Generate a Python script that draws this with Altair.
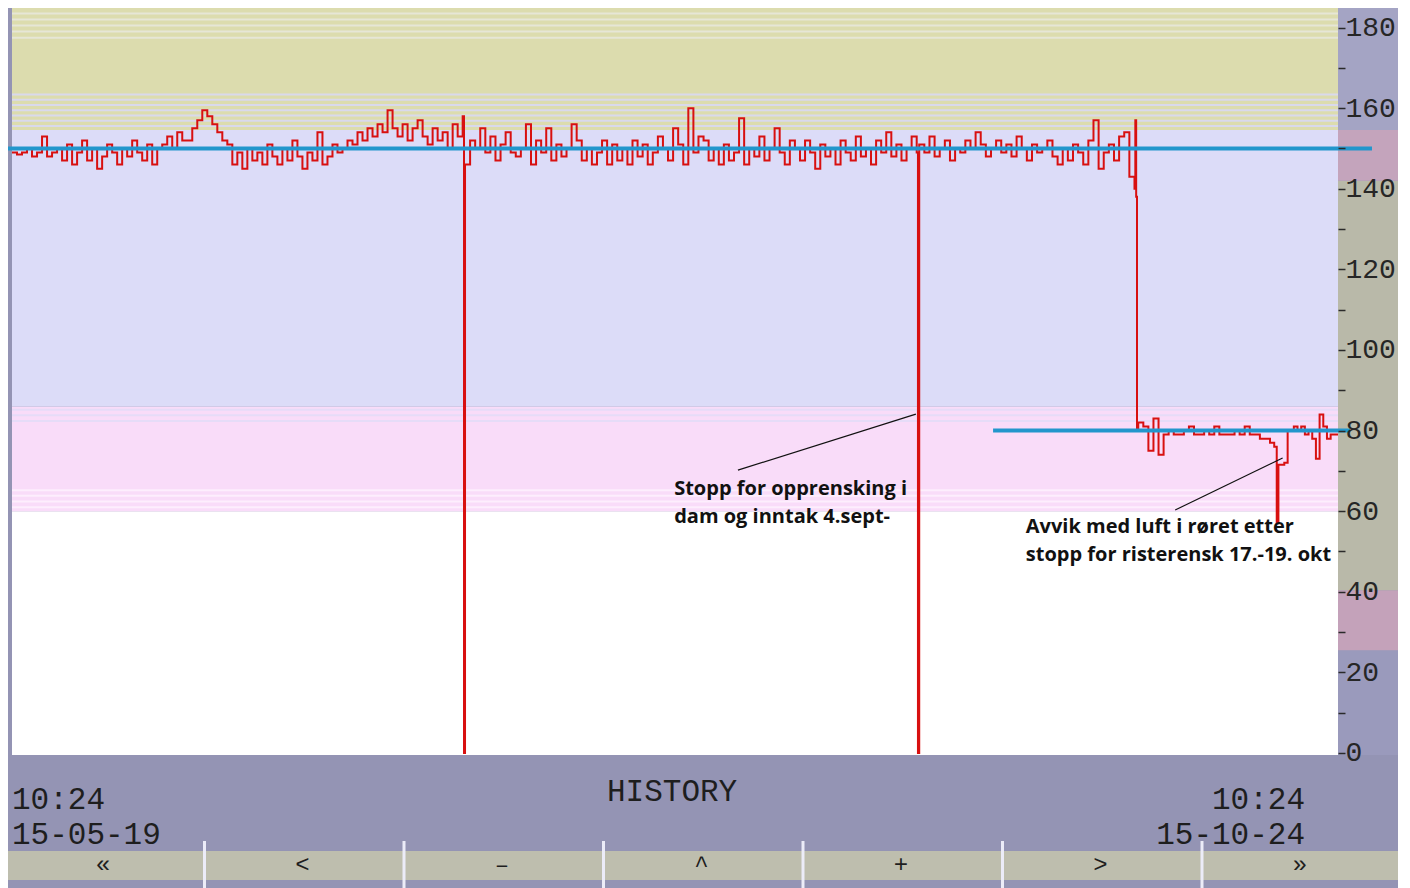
import altair as alt
import numpy as np
import pandas as pd

# ---------------- data ----------------
# time axis: days after 15-05-19 10:24 (window ends 15-10-24 10:24)
DAYS = 158.0

seg_a_vals = [149, 148.5, 149, 150, 148, 149, 153, 148, 149, 150,
              147, 151, 146, 149, 152, 147, 150, 145, 148, 151,
              149, 146, 150, 148, 152, 149, 147, 151, 146, 150,
              151, 153, 150, 154, 152,
              152, 155, 157, 159.5, 158, 156, 154, 152, 151,
              146, 149, 145, 150, 147, 149, 146, 151, 148, 146, 150, 147, 152, 148, 145, 149, 147, 154, 146, 148, 151, 149,
              150, 152, 151, 154, 152, 155, 153, 156, 154, 159.5, 155, 153, 156, 152, 155, 157, 153, 151, 155, 152, 154, 150, 156, 153, 158]
seg_b_vals = [146, 152, 150, 155, 149, 153, 147, 151, 154, 149,
              148, 150, 156, 146, 152, 149, 155, 147, 151, 148,
              150, 156, 152, 147, 150, 146, 149, 152, 146, 151,
              147, 150, 146, 152, 148, 151, 146, 149, 153, 150,
              147, 155, 151, 146, 160, 149, 153, 152, 147, 150,
              146, 151, 147, 149, 157.5, 146, 150, 148, 153, 147,
              150, 155, 149, 146, 152, 150, 147, 152, 149, 145,
              151, 148, 150, 146, 152, 149, 147, 153, 148, 150,
              146, 152, 149, 154, 148, 151, 147, 150, 153, 149]
seg_c_vals = [151, 149, 153, 148, 150, 152, 147, 150, 149, 152,
              150, 154, 151, 148, 150, 152, 149, 151, 148, 153,
              150, 147, 151, 149, 150, 152, 148, 146, 150, 147,
              151, 149, 146, 152, 157, 145, 149, 151, 147, 153, 154, 143, 140]
seg_d1_vals = [82, 81, 75, 83, 74, 79, 80, 79, 79, 80, 81, 79, 79, 80, 79,
               81, 79, 79, 79, 80, 79, 81, 79, 79, 78, 78, 77]
seg_d2_vals = [80, 81, 80, 81, 79, 80, 78, 73, 84, 81, 78, 79, 79, 79]

# (start day, end day, values)
segments = [(0.0, 53.7, seg_a_vals), (53.98, 107.8, seg_b_vals),
            (108.1, 133.75, seg_c_vals), (134.2, 149.9, seg_d1_vals),
            (152.3, 158.0, seg_d2_vals)]
# isolated readings: the stops and the step down
event_days = [53.86, 107.95, 133.85, 133.95, 134.05, 150.4, 150.7, 150.9, 151.6, 152.0]
event_vals = [0, 0, 157, 138, 80, 76, 57, 71.5, 72, 80]

setpoint_vals = [150, 80]
setpoint_from = [-0.48, 116.9]
setpoint_to = [162.05, 159.43]

ann_lines_1 = ["Stopp for opprensking i", "dam og inntak 4.sept-"]
ann_lines_2 = ["Avvik med luft i røret etter", "stopp for risterensk 17.-19. okt"]
ann_x = [78.9, 78.9, 120.8, 120.8]
ann_y = [64.0, 57.1, 54.6, 47.6]
lead_x1 = [86.5, 138.6]
lead_y1 = [70.2, 60.3]
lead_x2 = [107.7, 151.4]
lead_y2 = [84.1, 73.2]

band_lo = [-0.5, 60, 86, 154.6]
band_hi = [60, 86, 154.6, 184.86]
band_col = ["#ffffff", "#f9dcf9", "#dcdcf8", "#dcdcae"]
stripe_vals = [155.6, 156.9, 158.2, 159.5, 160.8, 162.1, 163.4, 177.5, 179.0, 180.5, 182.0, 183.5,
               85.2, 83.8, 82.4, 61.0, 62.4, 63.8, 65.2]
stripe_col = ["#d9d9ec"] * 7 + ["#e6e6d6"] * 5 + ["#e6dcf8"] * 3 + ["#fdeefd"] * 4

col_lo = [-0.5, 25.5, 40.4, 142, 154.6]
col_hi = [25.5, 40.4, 142, 154.6, 184.86]
col_col = ["#9a9abc", "#c4a2ba", "#b9b9a9", "#c4a4bc", "#a4a4c4"]

y_ticks = list(range(0, 181, 10))
buttons = ["«", "<", "–", "^", "+", ">", "»"]

# ---------------- build tables ----------------
rows = []
for s, e, vals in segments:
    for t, v in zip(np.linspace(s, e, len(vals)), vals):
        rows.append((t, v))
rows += list(zip(event_days, event_vals))
trace = pd.DataFrame(rows, columns=["day", "value"]).sort_values("day")

W, H = 1326, 747
xs = alt.Scale(domain=[0, DAYS], nice=False, zero=False)
ys = alt.Scale(domain=[-0.5, 184.86], nice=False, zero=False)

bands = pd.DataFrame({"lo": band_lo, "hi": band_hi, "c": band_col})
band_layer = alt.Chart(bands).mark_rect().encode(
    x=alt.value(0), x2=alt.value(W),
    y=alt.Y("lo:Q", scale=ys, axis=alt.Axis(
        orient="right", values=y_ticks, labelExpr="datum.value % 20 == 0 ? datum.label : ''",
        labelFont="Liberation Mono", labelFontSize=28, labelColor="#262626",
        labelPadding=0, tickSize=7, tickColor="#2a2a2a", tickWidth=1.5,
        domain=False, grid=False, title=None, zindex=2)),
    y2="hi:Q", color=alt.Color("c:N", scale=None))

stripes = pd.DataFrame({"v": stripe_vals, "c": stripe_col})
stripe_layer = alt.Chart(stripes).mark_rule(strokeWidth=2).encode(
    x=alt.value(0), x2=alt.value(W), y=alt.Y("v:Q", scale=ys),
    color=alt.Color("c:N", scale=None))

cols = pd.DataFrame({"lo": col_lo, "hi": col_hi, "c": col_col})
col_layer = alt.Chart(cols).mark_rect().encode(
    x=alt.value(W), x2=alt.value(W + 60),
    y=alt.Y("lo:Q", scale=ys), y2="hi:Q", color=alt.Color("c:N", scale=None))

sp = pd.DataFrame({"v": setpoint_vals, "a": setpoint_from, "b": setpoint_to})
sp_layer = alt.Chart(sp).mark_rule(color="#2296cc", strokeWidth=4).encode(
    x=alt.X("a:Q", scale=xs, axis=None), x2="b:Q", y=alt.Y("v:Q", scale=ys))

trace_layer = alt.Chart(trace).mark_line(color="#d81010", strokeWidth=2,
                                          interpolate="step-after").encode(
    x=alt.X("day:Q", scale=xs, axis=None), y=alt.Y("value:Q", scale=ys))

leads = pd.DataFrame({"x1": lead_x1, "y1": lead_y1, "x2": lead_x2, "y2": lead_y2})
lead_layer = alt.Chart(leads).mark_rule(color="#111111", strokeWidth=1.2).encode(
    x=alt.X("x1:Q", scale=xs), x2="x2:Q", y=alt.Y("y1:Q", scale=ys), y2="y2:Q")

ann = pd.DataFrame({"t": ann_lines_1 + ann_lines_2, "x": ann_x, "y": ann_y})
ann_layer = alt.Chart(ann).mark_text(font="Open Sans", fontWeight=700, fontSize=20,
                                     align="left", baseline="alphabetic", color="#111111").encode(
    x=alt.X("x:Q", scale=xs), y=alt.Y("y:Q", scale=ys), text="t:N")

# ---------------- frame of the trend window ----------------
one = pd.DataFrame({"k": [0]})
mono = dict(font="Liberation Mono", color="#1e1e1e")
frame = []
frame.append(alt.Chart(one).mark_rect(color="#bebeae").encode(
    x=alt.value(-4), x2=alt.value(W + 60), y=alt.value(843), y2=alt.value(872)))
for i, b in enumerate(buttons):
    frame.append(alt.Chart(one).mark_text(text=b, fontSize=24, align="center",
                                          baseline="middle", **mono).encode(
        x=alt.value(91 + i * 199.5), y=alt.value(857)))
for i in range(1, 7):
    frame.append(alt.Chart(one).mark_rule(color="#ececf8", strokeWidth=3).encode(
        x=alt.value(-7 + i * 199.5), y=alt.value(833), y2=alt.value(880)))
frame.append(alt.Chart(one).mark_text(text="10:24", fontSize=31, align="left", **mono).encode(
    x=alt.value(0), y=alt.value(792)))
frame.append(alt.Chart(one).mark_text(text="15-05-19", fontSize=31, align="left", **mono).encode(
    x=alt.value(0), y=alt.value(827)))
frame.append(alt.Chart(one).mark_text(text="HISTORY", fontSize=31, align="left", **mono).encode(
    x=alt.value(595), y=alt.value(784)))
frame.append(alt.Chart(one).mark_text(text="10:24", fontSize=31, align="right", **mono).encode(
    x=alt.value(1293), y=alt.value(792)))
frame.append(alt.Chart(one).mark_text(text="15-10-24", fontSize=31, align="right", **mono).encode(
    x=alt.value(1293), y=alt.value(827)))

chart = alt.layer(band_layer, stripe_layer, col_layer, trace_layer, sp_layer,
                  lead_layer, ann_layer, *frame).properties(
    width=W, height=H,
    autosize=alt.AutoSizeParams(type="none"),
    padding={"left": 4, "top": 0, "right": 60, "bottom": 134},
    background="#9494b4",
).configure_view(stroke=None)

chart.save("out.html", embed_options={"renderer": "svg", "actions": False})
